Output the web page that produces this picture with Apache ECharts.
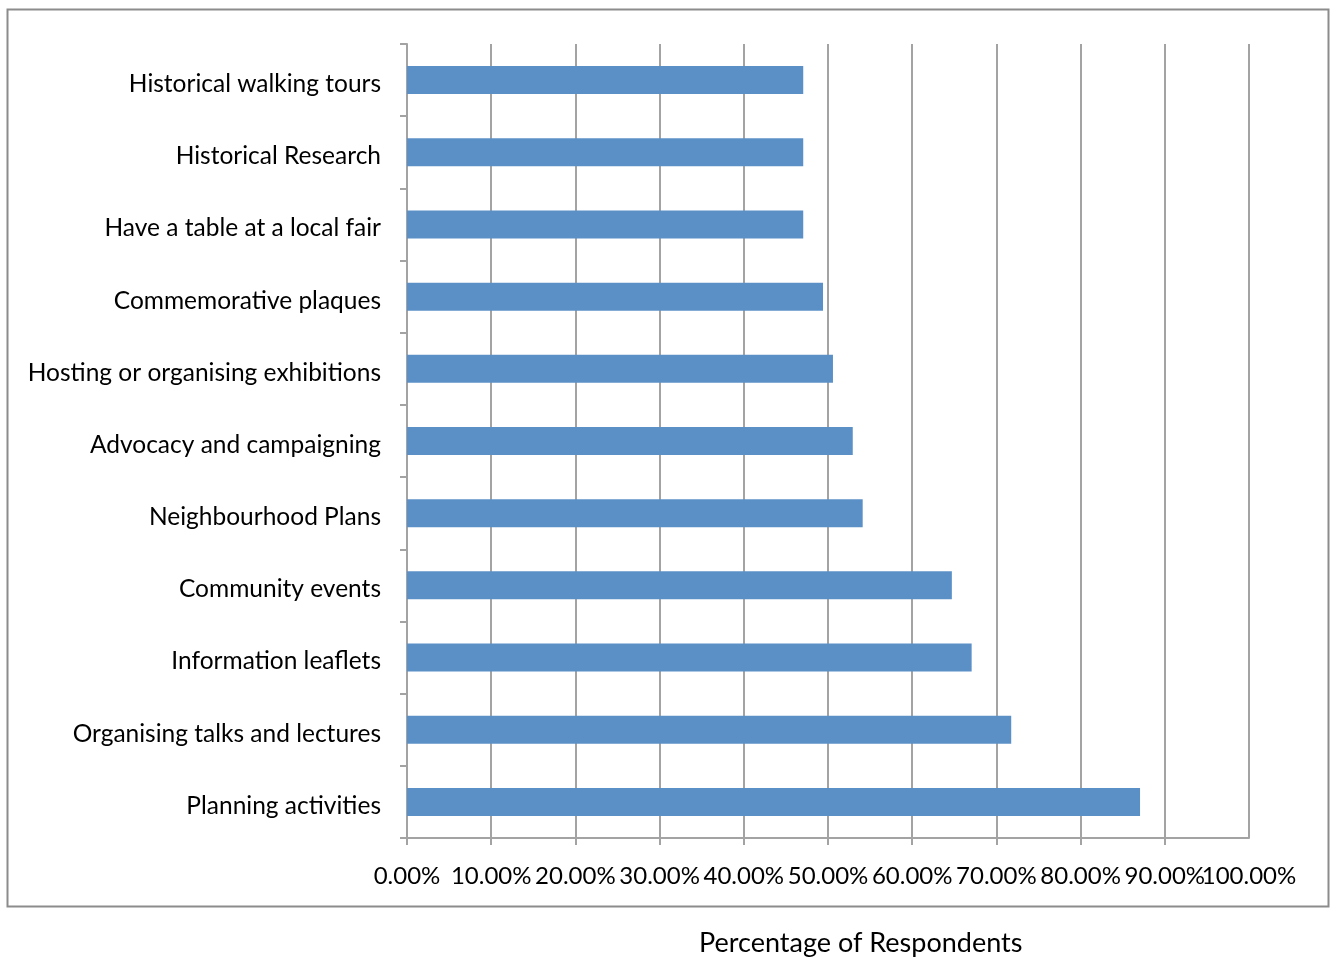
<!DOCTYPE html>
<html>
<head>
<meta charset="utf-8">
<style>
  html, body { margin: 0; padding: 0; background: #fff; }
  #chart { width: 1336px; height: 957px; }
</style>
<script src="https://cdn.jsdelivr.net/npm/echarts@6/dist/echarts.min.js"></script>
</head>
<body>
<div id="chart"></div>
<script>
// categories, top to bottom
const categories = [
  'Historical walking tours',
  'Historical Research',
  'Have a table at a local fair',
  'Commemorative plaques',
  'Hosting or organising exhibitions',
  'Advocacy and campaigning',
  'Neighbourhood Plans',
  'Community events',
  'Information leaflets',
  'Organising talks and lectures',
  'Planning activities'
]
// percentage of respondents
const percentages = [47.06, 47.06, 47.06, 49.41, 50.59, 52.94, 54.12, 64.71, 67.06, 71.76, 87.06]
const axisTitle = 'Percentage of Respondents'

const gray = '#a3a3a3'
const font = 'Lato, "Open Sans", sans-serif'
const pct = (v) => v.toFixed(2) + '%'

const labelBase = { margin: 26, color: '#000', fontSize: 24, fontFamily: font, hideOverlap: false }

const chart = echarts.init(document.getElementById('chart'))
chart.setOption({
  animation: false,
  grid: { left: 407, right: 87, top: 44, bottom: 119, containLabel: false },
  graphic: [
    {
      type: 'rect',
      shape: { x: 7.5, y: 9.5, width: 1321, height: 897 },
      style: { fill: 'none', stroke: '#8c8c8c', lineWidth: 2 },
      silent: true
    },
    {
      type: 'text',
      left: 699,
      top: 930,
      style: { text: axisTitle, font: '27px ' + font, fill: '#000' }
    }
  ],
  xAxis: [
    {
      type: 'value',
      min: 0,
      max: 100,
      interval: 10,
      axisLine: { show: true, lineStyle: { color: gray, width: 2 } },
      axisTick: { show: true, length: 7, lineStyle: { color: gray, width: 2 } },
      splitLine: { show: true, lineStyle: { color: gray, width: 2 } },
      axisLabel: { ...labelBase, showMinLabel: true, showMaxLabel: false, formatter: pct }
    },
    {
      // only carries the 100.00% label, which touches 90.00% in the original
      type: 'value',
      position: 'bottom',
      min: 0,
      max: 100,
      interval: 10,
      axisLine: { show: false },
      axisTick: { show: false },
      splitLine: { show: false },
      axisLabel: { ...labelBase, showMaxLabel: true, formatter: (v) => (v === 100 ? pct(v) : '') }
    }
  ],
  yAxis: {
    type: 'category',
    inverse: true,
    data: categories,
    axisLine: { show: true, lineStyle: { color: gray, width: 2 } },
    axisTick: { show: true, length: 7, lineStyle: { color: gray, width: 2 } },
    axisLabel: {
      margin: 26,
      color: '#000',
      fontSize: 24.5,
      fontFamily: font,
      formatter: (v) => '{t|' + v + '}',
      rich: { t: { fontSize: 24.5, fontFamily: font, color: '#000', padding: [8, 0, 0, 0] } }
    }
  },
  series: [
    {
      type: 'bar',
      data: percentages,
      barWidth: 28,
      itemStyle: { color: '#5b90c7' }
    }
  ]
})
</script>
</body>
</html>
